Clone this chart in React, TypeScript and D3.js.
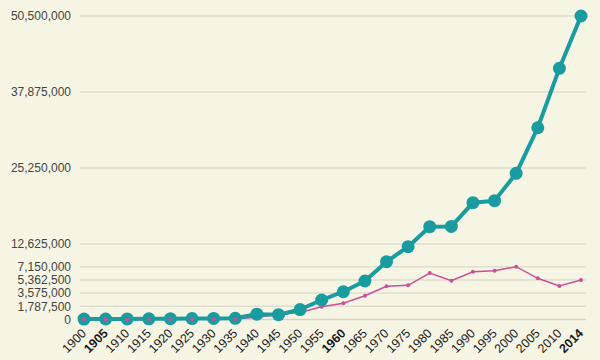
import React from "react";
import * as d3 from "d3";

const years = ["1900","1905","1910","1915","1920","1925","1930","1935","1940","1945","1950","1955","1960","1965","1970","1975","1980","1985","1990","1995","2000","2005","2010","2014"];
const tealValues = [60000,70000,80000,90000,100000,120000,150000,160000,720000,650000,1350000,2640000,3760000,5210000,8360000,11970000,15500000,15550000,19490000,19820000,24370000,31940000,41810000,50500000];
const pinkValues = [20000,25000,30000,35000,40000,50000,60000,80000,300000,700000,950000,1730000,2190000,3220000,4500000,4630000,6300000,5250000,6470000,6610000,7150000,5580000,4540000,5350000];
const yTicks = [0,1787500,3575000,5362500,7150000,12625000,25250000,37875000,50500000];
const boldYears = ["1905","1960","2014"];

const W = 600, H = 360;

export default function App() {
  const x = d3.scalePoint<string>().domain(years).range([84, 581]);
  const y = d3.scaleLinear().domain([0, 7150000, 12625000, 50500000]).range([319.5, 266.7, 244, 16]);
  const fmt = d3.format(",");
  const lineT = d3.line<number>().x((_, i) => x(years[i])!).y(d => y(d));
  const teal = "#189ca0";
  const pink = "#c9509a";
  return (
    <svg width={W} height={H} style={{ position: "fixed", left: 0, top: 0, display: "block" }} fontFamily="'Liberation Sans', Arial, sans-serif">
      <rect width={W} height={H} fill="#f6f4e3" />
      {yTicks.map(t => (
        <g key={t}>
          <line x1={80} x2={586} y1={y(t)} y2={y(t)} stroke={t === 0 ? "#d6d3c4" : "#e0ddcf"} strokeWidth={1.5} />
          <text x={71} y={y(t)} dy="0.35em" textAnchor="end" fontSize={12} fill="#444">{fmt(t)}</text>
        </g>
      ))}
      <path d={lineT(pinkValues)!} fill="none" stroke={pink} strokeWidth={1.5} />
      {pinkValues.map((v, i) => (
        <circle key={"p" + i} cx={x(years[i])!} cy={y(v)} r={2} fill={pink} />
      ))}
      <path d={lineT(tealValues)!} fill="none" stroke={teal} strokeWidth={4} strokeLinejoin="round" />
      {tealValues.map((v, i) => (
        <circle key={"t" + i} cx={x(years[i])!} cy={y(v)} r={6.5} fill={teal} />
      ))}
      {pinkValues.slice(0, 8).map((v, i) => (
        <circle key={"pp" + i} cx={x(years[i])!} cy={y(v)} r={2} fill={pink} />
      ))}
      {years.map(yr => (
        <text key={yr} transform={`translate(${x(yr)! + 3},${334}) rotate(-45)`} textAnchor="end" fontSize={12.5} fill="#1a1a1a" fontWeight={boldYears.includes(yr) ? 700 : 400}>{yr}</text>
      ))}
    </svg>
  );
}
